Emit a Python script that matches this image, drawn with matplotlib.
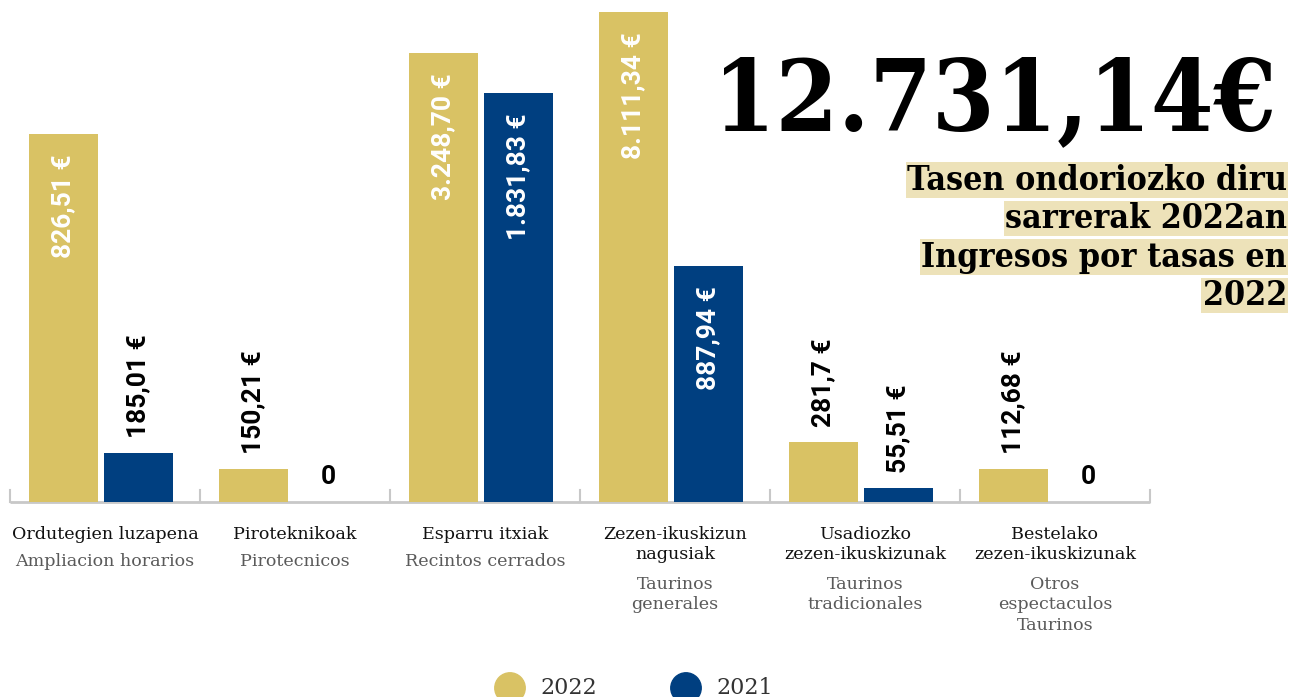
import matplotlib
matplotlib.use('Agg')
import matplotlib.pyplot as plt

# data (bar heights are the drawn heights, px above the baseline)
categories = ['Ordutegien luzapena', 'Piroteknikoak', 'Esparru itxiak',
              'Zezen-ikuskizun\nnagusiak', 'Usadiozko\nzezen-ikuskizunak',
              'Bestelako\nzezen-ikuskizunak']
categories_es = ['Ampliacion horarios', 'Pirotecnicos', 'Recintos cerrados',
                 'Taurinos\ngenerales', 'Taurinos\ntradicionales',
                 'Otros\nespectaculos\nTaurinos']
heights_2022 = [368, 33, 449, 490, 60, 33]
heights_2021 = [49, 0, 409, 236, 14, 0]
labels_2022 = ['826,51 €', '150,21 €', '3.248,70 €', '8.111,34 €', '281,7 €', '112,68 €']
labels_2021 = ['185,01 €', '0', '1.831,83 €', '887,94 €', '55,51 €', '0']
total = '12.731,14€'
title_lines = ['Tasen ondoriozko diru', 'sarrerak 2022an', 'Ingresos por tasas en', '2022']

GOLD = '#d9c264'
BLUE = '#003f80'
HIGHLIGHT = '#ede2b9'
SERIF = ['DejaVu Serif']

fig = plt.figure(figsize=(13, 6.97), dpi=100)
ax = fig.add_axes([0, 0, 1, 1])
ax.set_xlim(0, 1300)
ax.set_ylim(-195, 502)   # 1 unit = 1 px, baseline at y=0
ax.axis('off')

group_w = 190
x0 = 10
centers = [x0 + group_w * (i + 0.5) for i in range(len(categories))]
bw = 69

def value_label(x, h, txt):
    if txt == '0':
        ax.text(x, 25, txt, ha='center', va='center', fontsize=19,
                fontweight='bold', family='Roboto', color='black')
    elif h > 150:
        ax.text(x, h - 20, txt, ha='center', va='top', rotation=90, fontsize=19,
                fontweight='bold', family='Roboto', color='white')
    else:
        ax.text(x, h + 15, txt, ha='center', va='bottom', rotation=90, fontsize=19,
                fontweight='bold', family='Roboto', color='black')

for i, c in enumerate(centers):
    xa, xb = c - 42, c + 33
    ax.bar(xa, heights_2022[i], width=bw, color=GOLD, zorder=2)
    ax.bar(xb, heights_2021[i], width=bw, color=BLUE, zorder=2)
    value_label(xa, heights_2022[i], labels_2022[i])
    value_label(xb, heights_2021[i], labels_2021[i])

    # category labels
    ax.text(c, -24, categories[i], ha='center', va='top', fontsize=12.6,
            family=SERIF, color='#111111', linespacing=1.2)
    nl = categories[i].count('\n') + 1
    ax.text(c, -24 - 23 * nl - 4, categories_es[i], ha='center', va='top',
            fontsize=12.6, family=SERIF, color='#5a5a5a', linespacing=1.25)

# baseline with group separators
ax.plot([x0, x0 + group_w * len(categories)], [0, 0], color='#c8c8c8', lw=2, zorder=1,
        solid_capstyle='butt')
for i in range(len(categories) + 1):
    xs = x0 + group_w * i
    ax.plot([xs, xs], [0, 12], color='#c8c8c8', lw=1.5, zorder=1)

# big total
ax.text(1276, 372, total, ha='right', va='baseline', fontsize=72, fontweight='bold',
        family=SERIF, fontstretch='condensed', color='black')

# highlighted title lines
for k, line in enumerate(title_lines):
    ax.text(1287, 322 - 38.5 * k, line, ha='right', va='center', fontsize=24.3,
            fontweight='bold', family=SERIF, fontstretch='condensed', color='black',
            bbox=dict(facecolor=HIGHLIGHT, edgecolor='none', pad=1.0))

# legend
ax.scatter([510, 686], [-186, -186], s=480, color=[GOLD, BLUE], clip_on=False, zorder=3)
ax.text(540, -186, '2022', ha='left', va='center', fontsize=16, family=SERIF, color='#333333')
ax.text(716, -186, '2021', ha='left', va='center', fontsize=16, family=SERIF, color='#333333')

fig.savefig('out.png', dpi=100)
